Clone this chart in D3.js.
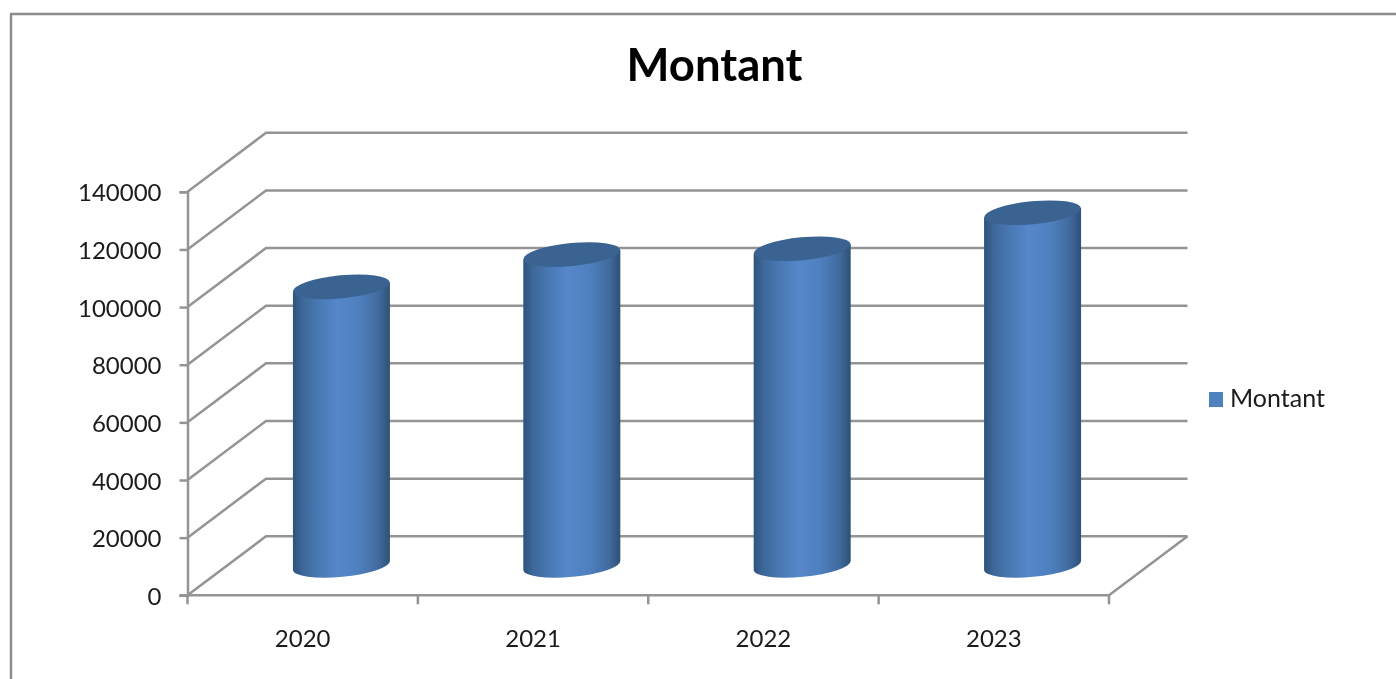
<!DOCTYPE html>
<html><head><meta charset="utf-8">
<script src="https://cdn.jsdelivr.net/npm/d3@7"></script>
<style>html,body{margin:0;padding:0;background:#fff;overflow:hidden}svg{display:block}text{font-family:Lato,"Open Sans",sans-serif;fill:#1a1a1a}</style>
</head><body><svg id="c" width="1396" height="679"></svg>
<script>
const categories = ["2020","2021","2022","2023"];
const montant = [96800, 108000, 110000, 122500];
const yTicks = [0,20000,40000,60000,80000,100000,120000,140000];
const seriesName = "Montant";
const titleText = "Montant";

const W=1396,H=679;
const svg=d3.select("#c");
const defs=svg.append("defs");
const soft=defs.append("filter").attr("id","soft").attr("filterUnits","userSpaceOnUse").attr("x",0).attr("y",0).attr("width",W).attr("height",H);
soft.append("feGaussianBlur").attr("stdDeviation",0.6);
const grad=defs.append("linearGradient").attr("id","cyl").attr("x1","0").attr("x2","1").attr("y1","0").attr("y2","0");
[[0,"#2f527b"],[0.1,"#3d6899"],[0.28,"#4a79b5"],[0.46,"#5587ca"],[0.68,"#4f80bf"],[0.88,"#416b9f"],[1,"#2f5077"]].forEach(s=>grad.append("stop").attr("offset",s[0]).attr("stop-color",s[1]));

const root=svg.append("g").attr("filter","url(#soft)");
const grey="#949494";
// outer frame
root.append("path").attr("d","M11,679V14H1396").attr("fill","none").attr("stroke","#8c8c8c").attr("stroke-width",2.4);

const x=d3.scaleBand().domain(categories).range([187.5,1109]);
const y=d3.scaleLinear().domain([0,140000]).range([595.3,191.8]);
const dx=78.5,dy=-59;

// gridlines: wall
const g=root.append("g").attr("fill","none").attr("stroke",grey).attr("stroke-width",2.5);
yTicks.forEach(t=>{
  g.append("path").attr("d",d3.line()([[x.range()[0],y(t)],[x.range()[0]+dx,y(t)+dy],[x.range()[1]+dx,y(t)+dy]]));
});
// floor front/right edge
g.append("path").attr("d",d3.line()([[x.range()[1],y(0)],[x.range()[1]+dx,y(0)+dy]]));
// y axis
const yAxis=d3.axisLeft(y).tickValues(yTicks).tickFormat(d3.format("d")).tickSize(8).tickPadding(18);
const ya=root.append("g").attr("transform",`translate(${x.range()[0]},0)`).call(yAxis);
// x axis
const xEdges=categories.map(c=>x(c)).concat([x.range()[1]]);
const xa=root.append("g");
xa.append("line").attr("x1",x.range()[0]-8).attr("x2",x.range()[1]).attr("y1",y(0)).attr("y2",y(0)).attr("stroke",grey).attr("stroke-width",2.5);
xa.selectAll("line.t").data(xEdges).join("line").attr("class","t").attr("x1",d=>d).attr("x2",d=>d).attr("y1",y(0)).attr("y2",y(0)+9).attr("stroke",grey).attr("stroke-width",2.5);
xa.selectAll("text").data(categories).join("text").attr("x",d=>x(d)+x.bandwidth()/2).attr("y",647).attr("text-anchor","middle").attr("font-size",24).text(d=>d);
ya.select(".domain").attr("stroke",grey).attr("stroke-width",2.5);
ya.selectAll("line").attr("stroke",grey).attr("stroke-width",2.5);
ya.selectAll("text").attr("font-size",24).attr("dy","0.38em").attr("font-family",'Lato,"Open Sans",sans-serif').attr("fill","#1a1a1a");

// cylinders
const rx=48.5, ry=11.5, tilt=-5.5;
const baseY=y(0)+dy/2-0.5;
const bars=root.append("g").selectAll("g").data(categories.map((c,i)=>({c,v:montant[i]}))).join("g")
  .attr("transform",d=>`translate(${x(d.c)+x.bandwidth()/2+dx/2-0.5},0)`);
const sl=Math.sin(tilt*Math.PI/180)*rx;
bars.append("path").attr("fill","url(#cyl)").attr("d",d=>{
  const top=y(d.v)+dy/2;
  return `M${-rx},${top-sl}L${-rx},${baseY-sl}A${rx},${ry} ${tilt} 0 0 ${rx},${baseY+sl}L${rx},${top+sl}Z`;
});
bars.append("ellipse").attr("rx",rx).attr("ry",ry).attr("cy",0).attr("fill","#3a6392")
  .attr("transform",d=>`translate(0,${y(d.v)+dy/2}) rotate(${tilt})`);

// title
root.append("text").attr("x",714.5).attr("y",81).attr("text-anchor","middle").attr("font-size",45.5).attr("font-weight",700).style("fill","#000").text(titleText);
// legend
root.append("rect").attr("x",1209).attr("y",392).attr("width",14).attr("height",15).attr("fill","#4f81bd");
root.append("text").attr("x",1230).attr("y",407).attr("font-size",25).text(seriesName);
</script></body></html>
